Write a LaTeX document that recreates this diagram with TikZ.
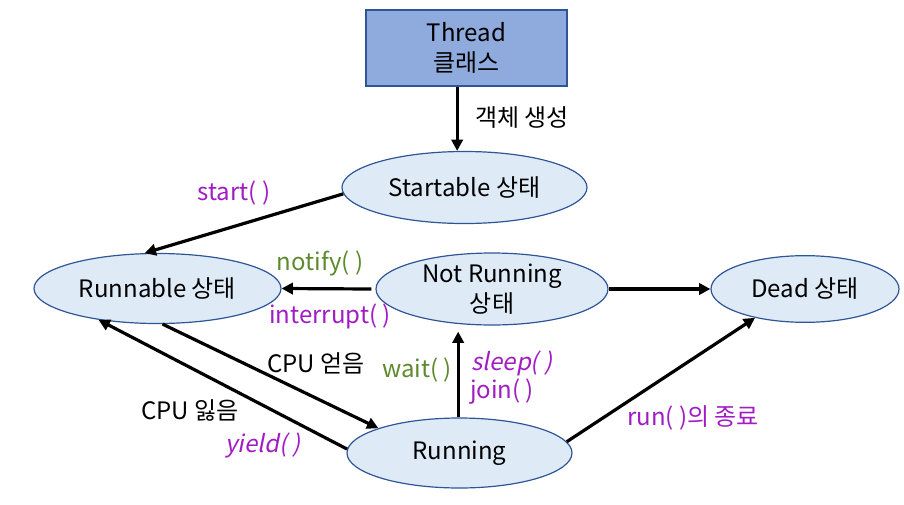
\documentclass[tikz,border=0pt]{standalone}
\usepackage{fontspec}
\setmainfont{Noto Sans CJK KR}[AutoFakeSlant=0.2]
\usepackage{tikz}
\usetikzlibrary{shapes,arrows.meta,positioning}
\usepackage{xcolor}
\definecolor{boxfill}{HTML}{8FAADC}
\definecolor{boxline}{HTML}{2F5597}
\definecolor{ellfill}{HTML}{DEEBF7}
\definecolor{ellline}{HTML}{2F5597}
\definecolor{callpurple}{HTML}{A21CC4}
\definecolor{callgreen}{HTML}{5E8A2E}

\begin{document}
\begin{tikzpicture}[x=0.75pt,y=0.75pt,yscale=-1,xscale=1,
    statenode/.style={ellipse, draw=ellline, fill=ellfill, line width=0.9pt, inner sep=0pt, align=center, font=\fontsize{18}{22}\selectfont},
    classbox/.style={rectangle, draw=boxline, fill=boxfill, line width=0.9pt, inner sep=0pt, align=center, font=\fontsize{18}{22}\selectfont},
    arr/.style={line width=2.4pt, -{Triangle[length=8.5pt,width=8.5pt]}},
    lbl/.style={inner sep=0.75pt, font=\fontsize{18}{22}\selectfont},
    purplelbl/.style={lbl, text=callpurple},
    greenlbl/.style={lbl, text=callgreen}]
    \path[use as bounding box] (0,0) rectangle (904,504); %diagram is 904 x 504

    %Shape: Rectangle
    \node[classbox, minimum width=150.75pt, minimum height=57pt] (thread) at (466.5,48) {Thread\\클래스};
    %Shape: Ellipse
    \node[statenode, minimum width=183.75pt, minimum height=54pt] (startable) at (464.5,187.5) {Startable 상태};
    \node[statenode, minimum width=185.25pt, minimum height=52.5pt] (runnable) at (157.5,288.5) {Runnable 상태};
    \node[statenode, minimum width=174pt, minimum height=54pt] (notrunning) at (492,289) {Not Running\\상태};
    \node[statenode, minimum width=141pt, minimum height=50pt] (dead) at (805,289) {Dead 상태};
    \node[statenode, minimum width=168.75pt, minimum height=52.5pt] (running) at (459.5,453) {Running};

    %Straight Lines
    \draw[arr] ([xshift=-7pt]thread.south) -- ([xshift=-7pt]thread.south |- startable.north);
    \draw[arr] (startable.183) -- (runnable.110);
    \draw[arr] ([xshift=-3pt]notrunning.west) -- (runnable.east);
    \draw[arr] (notrunning.east) -- (dead.west);
    \draw[arr] (runnable.278) -- (running.163);
    \draw[arr] (running.178) -- (runnable.208);
    \draw[arr, shorten >=4.5pt] ([xshift=-1pt]running.north) -- ([xshift=-1pt]running.north |- notrunning.south);
    \draw[arr] (running.6) -- (dead.210);

    % Text Node
    \node[lbl] (create) at (522,118) {객체 생성};
    \node[purplelbl] (start) at (234,193) {start( )};
    \node[greenlbl] (notify) at (320,263) {notify( )};
    \node[purplelbl] (interrupt) at (330,316) {interrupt( )};
    \node[lbl] (cpuget) at (316,363) {CPU 얻음};
    \node[lbl] (cpulose) at (190,410) {CPU 잃음};
    \node[purplelbl, font=\fontsize{18}{22}\selectfont\itshape] (yield) at (263,445) {yield( )};
    \node[greenlbl] (wait) at (417,370) {wait( )};
    \node[purplelbl, font=\fontsize{18}{22}\selectfont\itshape] (sleep) at (512,363) {sleep( )};
    \node[purplelbl] (join) at (502,392) {join( )};
    \node[purplelbl] (runend) at (693,418) {run( )의 종료};

\end{tikzpicture}
\end{document}
